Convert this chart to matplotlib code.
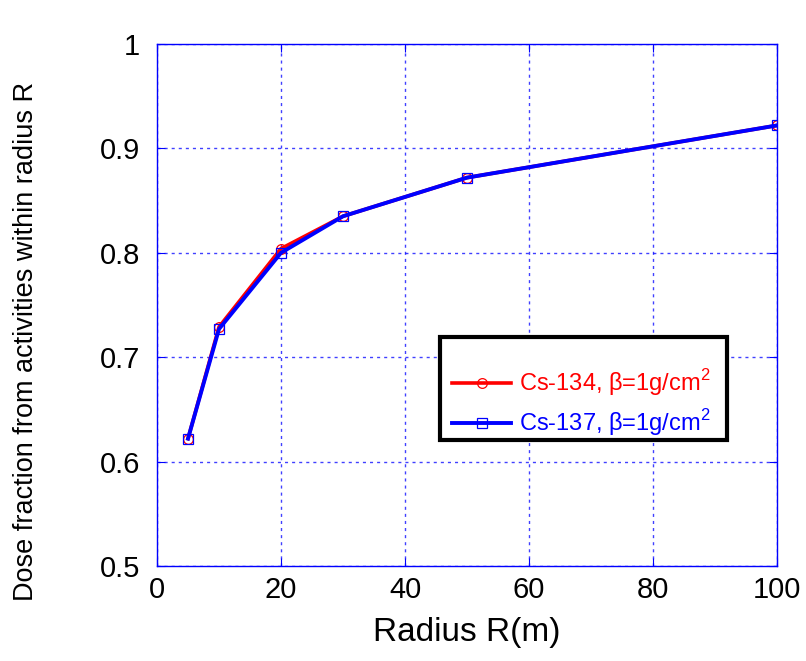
import numpy as np
import matplotlib
matplotlib.use("Agg")
import matplotlib.pyplot as plt
from matplotlib.patches import Rectangle
from matplotlib.ticker import MultipleLocator

plt.rcParams["font.family"] = ["Liberation Sans", "DejaVu Sans"]
plt.rcParams["mathtext.fontset"] = "custom"
plt.rcParams["mathtext.rm"] = "Liberation Sans"

radius = [5, 10, 20, 30, 50, 100]
cs134 = [0.622, 0.729, 0.804, 0.835, 0.872, 0.922]
cs137 = [0.622, 0.727, 0.800, 0.835, 0.872, 0.922]
labels = ["Cs-134, \u03b2=1g/cm$^2$", "Cs-137, \u03b2=1g/cm$^2$"]
yticks = [0.5, 0.6, 0.7, 0.8, 0.9, 1.0]
ytick_labels = ["0.5", "0.6", "0.7", "0.8", "0.9", "1"]

red = "#ff0000"
blue = "#0000ff"

fig = plt.figure(figsize=(8.06, 6.61), dpi=100)
ax = fig.add_axes([157 / 806, 95 / 661, 620 / 806, 522 / 661])

ax.plot(radius, cs134, color=red, lw=2.6, marker="o", ms=7,
        mfc="none", mew=0.9, label=labels[0], zorder=3)
ax.plot(radius, cs137, color=blue, lw=2.8, marker="s", ms=7,
        mfc="none", mew=0.9, label=labels[1], zorder=4)

ax.set_xlim(0, 100)
ax.set_ylim(0.5, 1.0)
ax.xaxis.set_major_locator(MultipleLocator(20))
ax.set_yticks(yticks)
ax.set_yticklabels(ytick_labels)

for s in ax.spines.values():
    s.set_color(blue)
    s.set_linewidth(1)
ax.tick_params(axis="both", direction="in", color=blue, length=6,
               labelsize=21, labelcolor="black", top=True, right=True)
ax.tick_params(axis="x", pad=7)
ax.tick_params(axis="y", pad=12)
ax.grid(True, color=blue, alpha=0.75, linestyle=(0, (2.2, 2.9)), linewidth=1)

ax.set_xlabel("Radius R(m)", fontsize=24)
ax.xaxis.set_label_coords(0.5, -0.097)
ax.set_ylabel("Dose fraction from activities within radius R", fontsize=19.5)
ax.yaxis.set_label_coords(-0.19, 0.43)

# legend box drawn separately: the original has more room above the entries
ax.add_patch(Rectangle((0.4565, 0.2414), 0.4629, 0.1973, transform=ax.transAxes,
                       facecolor="white", edgecolor="black", lw=3, zorder=5))
leg = ax.legend(loc="upper left", bbox_to_anchor=(0.476, 0.381),
                borderaxespad=0, borderpad=0, fontsize=17, frameon=False,
                handlelength=2.5, labelspacing=0.4, handletextpad=0.35)
leg.set_zorder(6)
for t, c in zip(leg.get_texts(), [red, blue]):
    t.set_color(c)

fig.savefig("out.png", dpi=100)
